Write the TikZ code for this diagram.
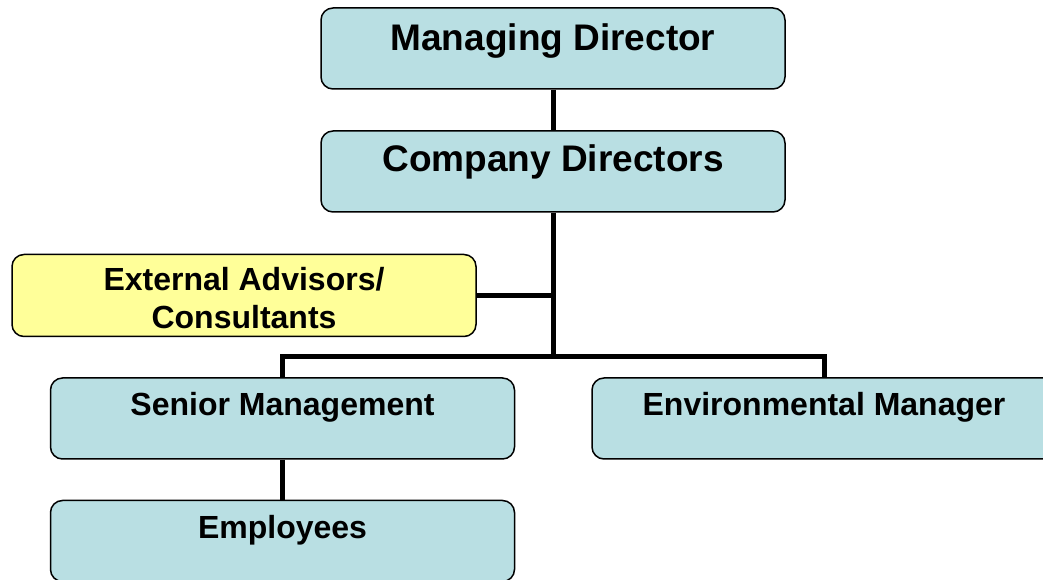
\documentclass[tikz,border=0pt]{standalone}
\usepackage{fontspec}
\setmainfont{Liberation Sans}
\usetikzlibrary{calc}

\definecolor{orgblue}{RGB}{185,223,227}
\definecolor{orgyellow}{RGB}{255,255,153}

\begin{document}
\begin{tikzpicture}[x=1pt,y=1pt,
    orgbox/.style={draw=black, line width=1.5pt, rounded corners=12pt, fill=orgblue,
        minimum width=464pt, inner xsep=0pt, inner ysep=0pt,
        font=\fontsize{32}{38}\selectfont\bfseries, text height=38pt, text depth=43pt},
    bigtext/.style={font=\fontsize{37}{44}\selectfont\bfseries},
    link/.style={line width=5pt}]
        % Fix the size of the picture
        \useasboundingbox (0,0) rectangle (1043,580);
        
        % Draw the boxes
        \node[orgbox, bigtext, text height=42.5pt, text depth=38.5pt] (md) at (553,531.5) {Managing Director};
        \node[orgbox, bigtext, text height=40.5pt, text depth=40.5pt] (cd) at (553,408.5) {Company Directors};
        \node[orgbox, fill=orgyellow, align=center, text height=74.5pt, text depth=7.5pt] (ext) at (244,284.5) {External Advisors/\\Consultants};
        \node[orgbox] (sm) at (282.5,161.5) {Senior Management};
        \node[orgbox] (em) at (824,161.5) {Environmental Manager};
        \node[orgbox] (emp) at (282.5,39) {Employees};
        
        % Draw the connecting lines
        \coordinate (junction) at (553,223);
        \draw[link] (md.south) -- (cd.north);
        \draw[link] (cd.south) -- ($(junction)+(0,-2.5)$);
        \draw[link] (ext.east) -- (ext.east -| cd.south);
        \draw[link] (sm.north) |- (junction) -| (em.north);
        \draw[link] (sm.south) -- (emp.north);
        
    \end{tikzpicture}
\end{document}
